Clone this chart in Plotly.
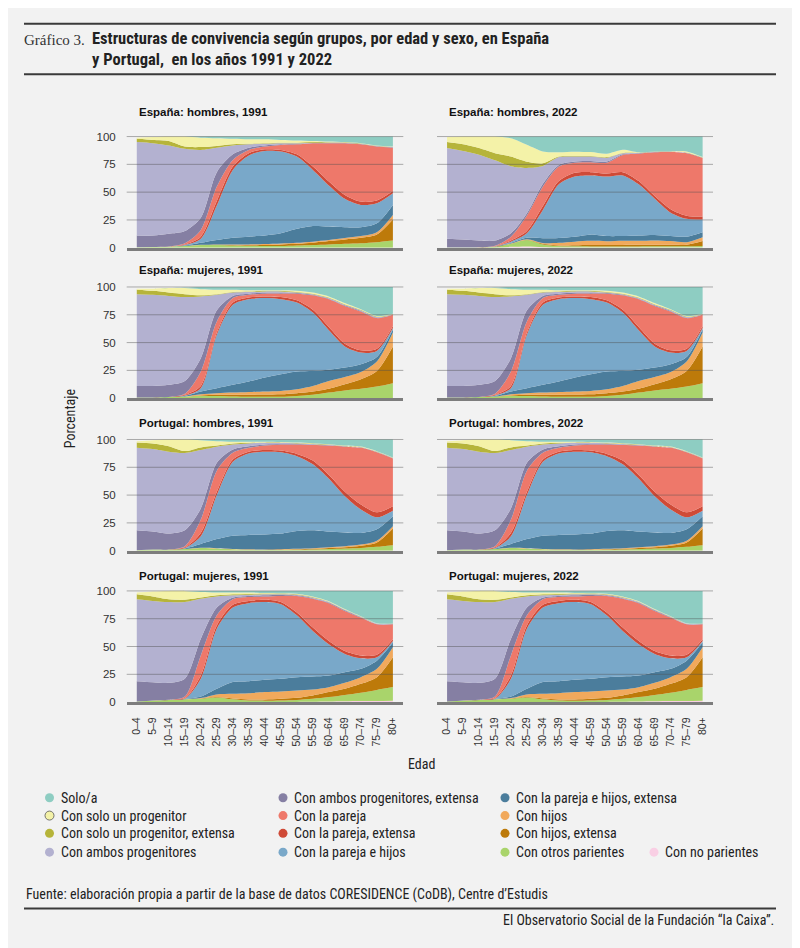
import plotly.graph_objects as go

# age groups (the source labels 45-49 as "45–59")
AGES = ["0–4", "5–9", "10–14", "15–19", "20–24", "25–29", "30–34", "35–39",
        "40–44", "45–59", "50–54", "55–59", "60–64", "65–69", "70–74", "75–79", "80+"]

# legend order = top of the stack first
CATEGORIES = ["Solo/a", "Con solo un progenitor", "Con solo un progenitor, extensa",
              "Con ambos progenitores", "Con ambos progenitores, extensa",
              "Con la pareja", "Con la pareja, extensa", "Con la pareja e hijos",
              "Con la pareja e hijos, extensa", "Con hijos", "Con hijos, extensa",
              "Con otros parientes", "Con no parientes"]

COLORS = ["#8ecdc2", "#f4f2a8", "#b6b43a", "#b3b1d0", "#857fa3", "#ee786a", "#cf4a37",
          "#79a8c9", "#4b7d9c", "#f1a95c", "#bd7a0a", "#a9d46b", "#f9cfe4"]

# % of population by age, one row per category (same order as CATEGORIES)
es_h_1991 = [
    [0, 0, 0, 0, 1, 1.5, 2, 2.5, 2.5, 3, 3.5, 4, 4.5, 5, 6, 8, 9],
    [1, 2.5, 4, 9, 8.5, 7, 5, 4, 3.5, 2.5, 2, 1, 0.7, 0.2, 0.2, 0.3, 0.3],
    [3, 3, 4, 2, 2.5, 1.5, 1, 0.5, 0.5, 0.5, 0.5, 0.5, 0.3, 0.3, 0.3, 0.2, 0.2],
    [84, 83, 79.5, 74, 61, 22, 8, 3, 1.5, 1, 0.5, 0.2, 0.2, 0.2, 0.2, 0.2, 0.2],
    [10.5, 10.3, 11.4, 11, 11, 13, 5, 2, 1, 0.5, 0.5, 0.3, 0.3, 0.3, 0.3, 0.3, 0.3],
    [0, 0, 0.1, 1, 6, 13, 6, 3, 2.5, 4.5, 9, 21, 34.5, 46.5, 51.5, 48.5, 39],
    [0, 0, 0, 0.5, 2, 4, 3, 2, 1.5, 1.5, 2, 3, 3.5, 3.5, 3, 2.5, 2],
    [0, 0, 0, 0.5, 3.5, 31, 61, 73, 76, 73.5, 65, 50.5, 37, 25.5, 20, 18, 10.5],
    [0, 0, 0, 0.5, 1.9, 4, 6, 7, 7.7, 9.2, 12.5, 14, 12, 9.8, 8, 8, 9],
    [0, 0, 0, 0, 0.1, 0.3, 0.5, 0.7, 0.8, 0.8, 1, 1, 1, 1.2, 1.5, 2, 4],
    [0, 0, 0, 0, 0, 0.2, 0.5, 0.8, 1, 1.5, 1.5, 2, 3, 4, 5, 7, 19],
    [0.5, 0.7, 1, 1.5, 2.5, 2.5, 2, 1.5, 1.5, 1.5, 2, 2.5, 3, 3.5, 4, 5, 6.5],
    [0, 0, 0, 0, 0, 0, 0, 0, 0, 0, 0, 0, 0, 0, 0, 0, 0],
]

es_h_2022 = [
    [0, 0, 0, 0, 1.5, 7.4, 13.4, 14.2, 13.6, 14, 15.4, 11.9, 14.2, 13.5, 13.2, 13.5, 18.5],
    [4.5, 7, 10.4, 15, 16.5, 15.2, 10.6, 3.8, 3.9, 3.5, 3.1, 2.8, 0.3, 0, 0.1, 0.8, 0.3],
    [5.4, 6, 5.9, 6.4, 8.7, 5.6, 2.5, 0.5, 0.5, 0.5, 0.5, 0.3, 0.2, 0.2, 0.2, 0.2, 0.2],
    [81.6, 79.6, 77.2, 72.1, 60.3, 40.8, 16, 7, 4.5, 4, 3.5, 1, 0.3, 0.3, 0.3, 0.3, 0.1],
    [7.8, 7.2, 6.1, 4.7, 3, 2, 2.5, 1.5, 1, 1, 1, 0.5, 0.4, 0.2, 0.2, 0.2, 0.2],
    [0, 0, 0.1, 0.4, 3.5, 14, 17.5, 13, 9.1, 9, 9.7, 15.5, 24.6, 39.2, 51.3, 56.2, 52.7],
    [0, 0, 0, 0.2, 1, 2, 3.5, 3, 3.4, 3, 2.8, 3, 3, 2.6, 3.2, 2.8, 2.5],
    [0, 0, 0, 0.2, 1, 4, 25.5, 48.2, 54, 53.2, 53.5, 54.5, 46, 32.5, 21, 16, 11.5],
    [0, 0, 0, 0.2, 0.7, 1.4, 4.3, 4.3, 4.5, 5.6, 4.6, 4.2, 4.8, 5, 4.5, 5, 4.5],
    [0, 0, 0, 0, 0.2, 0.4, 0.6, 2.5, 3.2, 3.7, 3.4, 3.8, 3.6, 3.9, 3.4, 2.3, 3.5],
    [0, 0, 0, 0, 0.1, 0.2, 0.6, 0.5, 1, 1.3, 1.3, 1.3, 1.4, 1.3, 1.3, 1.4, 4.5],
    [0.2, 0.2, 0.3, 0.7, 2.7, 5.8, 2.5, 1.2, 1.1, 1, 1, 1, 1, 1.1, 1.1, 1.1, 1.3],
    [0, 0, 0, 0.1, 0.8, 1.2, 0.5, 0.3, 0.2, 0.2, 0.2, 0.2, 0.2, 0.2, 0.2, 0.2, 0.2],
]

es_m_1991 = [
    [0, 0, 0, 0.5, 2, 2.5, 2.5, 3, 3, 3, 3.5, 5, 8.5, 14.5, 20, 26, 24],
    [1, 2, 4, 5.5, 5.5, 4, 2, 1, 0.5, 0.5, 1, 1, 1, 1, 0.5, 0.5, 0.2],
    [4, 3.5, 3, 2.5, 1, 0.5, 0.5, 0.5, 0.5, 0.5, 0.5, 0.5, 0.5, 0.5, 0.5, 0.5, 0.3],
    [82.5, 82, 80, 75.5, 55.5, 14, 3, 1.5, 1, 1, 0.5, 0.5, 0.5, 0.5, 0.5, 0.5, 0.2],
    [10.5, 10.3, 10.9, 11.5, 12, 10, 2, 1, 1, 1, 0.5, 0.5, 0.5, 0.5, 0.5, 0.5, 0.3],
    [0, 0, 0.1, 1, 13, 10, 4, 2.5, 2.5, 3, 6, 13, 25, 34, 35, 27.5, 10],
    [0, 0, 0, 0.5, 2, 2, 2, 1.5, 1.5, 2, 2, 2.5, 3, 2.5, 2, 2, 2],
    [0, 0, 0, 0.5, 3, 48, 72, 74, 71.5, 67.5, 62, 52.5, 35.5, 19, 10.5, 5.5, 1],
    [0, 0, 0, 0.4, 2.5, 4.5, 7, 9.5, 12.5, 15, 16, 13.5, 10, 8.5, 7, 4, 3],
    [0, 0, 0, 0.1, 1, 1.5, 2, 2.5, 2.8, 3, 3.5, 5, 7, 6.5, 6.5, 8.5, 12.5],
    [0, 0, 0, 0, 0.5, 1, 1.5, 1.7, 2, 2.2, 2.5, 3, 3.5, 5.5, 8.5, 14, 33],
    [0.5, 0.7, 1, 1.5, 2, 2, 1.5, 1.3, 1.2, 1.3, 2, 3, 5, 7, 8.5, 10.5, 13.5],
    [0, 0, 0, 0, 0, 0, 0, 0, 0, 0, 0, 0, 0, 0, 0, 0, 0],
]

pt_h_1991 = [
    [0, 0, 0, 0, 0.6, 1.5, 2, 2, 2, 2.2, 2.8, 3.4, 4.2, 5.4, 6.4, 10.5, 16.2],
    [1.2, 3, 6, 10.4, 6.5, 4, 1.7, 1, 0.6, 0.4, 0.4, 0.3, 0.3, 0.3, 0.3, 0.3, 0.2],
    [4.7, 5, 5, 1.8, 2.4, 1, 0.8, 0.5, 0.4, 0.4, 0.3, 0.3, 0.3, 0.3, 0.3, 0.2, 0.2],
    [74.2, 74.2, 73.6, 69.4, 52.5, 14.5, 4.5, 2.5, 1.5, 1, 0.5, 0.5, 0.4, 0.2, 0.2, 0.2, 0.2],
    [17.9, 16.2, 14.3, 14.4, 10, 7, 3, 1.5, 1, 0.5, 0.5, 0.5, 0.3, 0.3, 0.3, 0.3, 0.2],
    [0, 0, 0.1, 1, 12, 19, 6, 3.5, 4, 5.5, 8.5, 14, 26.5, 40.5, 51, 54, 43],
    [0, 0, 0, 0.5, 3, 3, 2, 1.5, 1.5, 1.5, 2, 3.3, 3.3, 4, 4.5, 4.5, 4],
    [0, 0, 0, 0.5, 7, 39.6, 66.6, 73.3, 74.5, 73.1, 67.2, 59.3, 47.5, 32.7, 21, 10.7, 5],
    [0, 0, 0, 0.5, 3.4, 8.2, 11.8, 13, 13.4, 14.1, 16.1, 16.1, 14.1, 12.3, 10.5, 10.3, 9],
    [0, 0, 0, 0, 0.1, 0.2, 0.2, 0.2, 0.2, 0.3, 0.4, 0.5, 0.6, 0.8, 1, 1.6, 2],
    [0, 0, 0, 0, 0, 0, 0.2, 0.2, 0.2, 0.3, 0.5, 0.8, 1, 1.2, 2, 3.9, 15],
    [0.5, 1, 1, 1.5, 2.5, 2, 1.2, 0.8, 0.7, 0.7, 0.8, 1, 1.5, 2, 2.5, 3.5, 5],
    [0, 0, 0, 0, 0, 0, 0, 0, 0, 0, 0, 0, 0, 0, 0, 0, 0],
]

pt_m_1991 = [
    [0, 0, 0, 0, 1, 1.5, 1.5, 1.5, 1.8, 2, 2.5, 5, 9.2, 16.2, 22.7, 29, 29.2],
    [1.5, 4.4, 7.5, 8, 5, 2.5, 1.5, 1.2, 0.6, 0.4, 0.5, 0.5, 0.5, 0.5, 0.3, 0.2, 0.2],
    [4.5, 4, 2.5, 2, 1, 1, 1, 0.8, 0.6, 0.6, 0.5, 0.5, 0.3, 0.3, 0.3, 0.2, 0.2],
    [73.7, 73.1, 72.7, 69, 36, 10, 2, 1, 1, 0.7, 0.5, 0.5, 0.5, 0.5, 0.4, 0.3, 0.2],
    [18.3, 16.4, 15.2, 16, 15, 7, 1.5, 1, 1, 0.8, 0.5, 0.5, 0.5, 0.5, 0.3, 0.3, 0.2],
    [0, 0, 0.1, 1.5, 18, 9, 5, 3.5, 3, 5.5, 15, 26, 34, 36, 34, 27.5, 13.5],
    [0, 0, 0, 0.5, 3, 3, 2.5, 2, 2, 2, 2.5, 3, 3, 2.7, 2.6, 2.2, 1.5],
    [0, 0, 0, 0.2, 16, 54, 67, 70.2, 70, 67, 55.6, 41, 28.1, 16.4, 9.5, 3, 1.5],
    [0, 0, 0, 0.2, 1.4, 5.1, 10.5, 10.8, 11, 11.5, 12, 11.7, 10.5, 9.6, 7.5, 7.4, 4.2],
    [0, 0, 0, 0.1, 0.3, 2.4, 4.3, 5.7, 6.6, 6.5, 6.5, 5.3, 4.4, 5.3, 6, 7.5, 9],
    [0, 0, 0, 0, 0.3, 0.3, 0.7, 0.8, 1.1, 1.5, 1.9, 3, 4.5, 5.5, 7.9, 11.4, 26.8],
    [0.5, 1.5, 2, 2.5, 3, 4.2, 2.4, 1.4, 1.2, 1.4, 1.8, 2.7, 4, 5.8, 7.6, 10, 12.3],
    [0, 0, 0, 0, 0, 0, 0.1, 0.1, 0.1, 0.1, 0.2, 0.3, 0.5, 0.7, 0.9, 1, 1.2],
]

# in the source these 2022 panels are drawn the same as 1991
es_m_2022 = es_m_1991
pt_h_2022 = pt_h_1991
pt_m_2022 = pt_m_1991

PANELS = [
    (es_h_1991, "España: hombres, 1991"), (es_h_2022, "España: hombres, 2022"),
    (es_m_1991, "España: mujeres, 1991"), (es_m_2022, "España: mujeres, 2022"),
    (pt_h_1991, "Portugal: hombres, 1991"), (pt_h_2022, "Portugal: hombres, 2022"),
    (pt_m_1991, "Portugal: mujeres, 1991"), (pt_m_2022, "Portugal: mujeres, 2022"),
]

W, H = 800, 948
OFF = 8   # the page body adds an 8px margin around the figure
NARROW = "Liberation Sans Narrow, Arial Narrow, Roboto Condensed, sans-serif"
SANS = "Liberation Sans, Arial, sans-serif"
SERIF = "Liberation Serif, DejaVu Serif, serif"
INK = "#222222"

ROW_BOTTOM = [245.5, 397.7, 552.0, 705.2]   # screen pixel of y=0 per row
TITLE_Y = [108, 268, 423, 578]
COL_X = [(126.7, 403.3), (437.0, 713.0)]
DATA_LEFT = [137, 446.7]
YMAX = 101
PX_UNIT = 1.125


def px(x):
    return (x - OFF) / W


def py(y):
    return 1 - (y - OFF) / H


fig = go.Figure()
layout = {}
shapes = []
annotations = []

for k, (table, title) in enumerate(PANELS):
    r, c = divmod(k, 2)
    n = k + 1
    xa = "x" if n == 1 else f"x{n}"
    ya = "y" if n == 1 else f"y{n}"

    # first trace added sits at the bottom of the stack
    for name, color, values in reversed(list(zip(CATEGORIES, COLORS, table))):
        fig.add_trace(go.Scatter(
            x=AGES, y=values, name=name, xaxis=xa, yaxis=ya,
            stackgroup=f"g{n}", mode="lines",
            line=dict(width=0, shape="spline", smoothing=0.8),
            fillcolor=color, showlegend=False, hoverinfo="skip",
        ))

    bottom = ROW_BOTTOM[r]
    top = bottom - YMAX * PX_UNIT
    x0, x1 = COL_X[c]
    layout["xaxis" if n == 1 else f"xaxis{n}"] = dict(
        domain=[px(x0), px(x1)], anchor=ya, type="category",
        range=[-0.63, 16.65], showgrid=False, zeroline=False,
        showline=True, linecolor="#7d7d7d", linewidth=3, ticks="",
        showticklabels=(r == 3), tickangle=-90, ticklabelstandoff=8,
        tickfont=dict(family=SANS, size=10.5, color="#333333"),
    )
    layout["yaxis" if n == 1 else f"yaxis{n}"] = dict(
        domain=[py(bottom), py(top)], anchor=xa, range=[0, YMAX],
        tickvals=[0, 25, 50, 75, 100], showgrid=False, zeroline=False,
        showline=False, ticks="", showticklabels=(c == 0), ticklabelstandoff=10,
        tickfont=dict(family=SANS, size=11.5, color="#333333"),
    )

    # grid lines sit above the areas in the original
    for v in [25, 50, 75, 100]:
        shapes.append(dict(
            type="line", xref=f"{xa} domain", x0=0, x1=1, yref=ya, y0=v, y1=v,
            line=dict(color="rgba(80,80,80,0.45)", width=1), layer="above",
        ))

    annotations.append(dict(
        text=f"<b>{title}</b>", x=px(DATA_LEFT[c]), y=py(TITLE_Y[r]),
        xanchor="left", yanchor="middle",
        font=dict(family=SANS, size=11.5, color="#111111"),
    ))

# header / footer rules
for y in [19, 70, 914]:
    shapes.append(dict(type="line", xref="paper", yref="paper",
                       x0=px(24), x1=px(776), y0=py(y), y1=py(y),
                       line=dict(color="#3a3a3a", width=2)))

annotations += [
    dict(text="Gráfico 3.", x=px(22), y=py(35), xanchor="left", yanchor="middle",
         font=dict(family=SERIF, size=15, color="#333333")),
    dict(text="<b>Estructuras de convivencia según grupos, por edad y sexo, en España"
              "<br>y Portugal,\u00a0 en los años 1991 y 2022</b>",
         x=px(90), y=py(44), xanchor="left", yanchor="middle", align="left",
         font=dict(family=NARROW, size=16.5, color="#222222")),
    dict(text="Porcentaje", x=px(70), y=py(418), textangle=-90,
         xanchor="center", yanchor="middle",
         font=dict(family=NARROW, size=14, color=INK)),
    dict(text="Edad", x=px(421), y=py(768), xanchor="center", yanchor="middle",
         font=dict(family=NARROW, size=14, color=INK)),
    dict(text="Fuente: elaboración propia a partir de la base de datos CORESIDENCE (CoDB), "
              "Centre d’Estudis",
         x=px(24), y=py(900), xanchor="left", yanchor="middle",
         font=dict(family=NARROW, size=14, color=INK)),
    dict(text="El Observatorio Social de la Fundación “la Caixa”.",
         x=px(776), y=py(926), xanchor="right", yanchor="middle",
         font=dict(family=NARROW, size=14, color=INK)),
]

# legend: 4 columns, filled column by column; last item in the 4th column, bottom row
LEG_COL_X = [49.5, 283, 505, 654]
LEG_ROW_Y = [802, 820, 838, 857]
slots = [(i // 4, i % 4) for i in range(12)] + [(3, 3)]
for (col, row), name, color in zip(slots, CATEGORIES, COLORS):
    cx, cy = LEG_COL_X[col], LEG_ROW_Y[row]
    outline = dict(color="#555555", width=0.8) if name == "Con solo un progenitor" else dict(width=0)
    shapes.append(dict(
        type="circle", xref="paper", yref="paper", xsizemode="pixel", ysizemode="pixel",
        xanchor=px(cx), yanchor=py(cy), x0=-4.5, x1=4.5, y0=-4.5, y1=4.5,
        fillcolor=color, line=outline,
    ))
    annotations.append(dict(
        text=name, x=px(cx + 9), y=py(cy), xanchor="left", yanchor="middle",
        font=dict(family=NARROW, size=14, color=INK),
    ))

for a in annotations:
    a.setdefault("xref", "paper")
    a.setdefault("yref", "paper")
    a.setdefault("showarrow", False)

fig.update_layout(
    width=W, height=H, autosize=False,
    margin=dict(l=0, r=0, t=0, b=0),
    paper_bgcolor="#f2f2f2", plot_bgcolor="#f2f2f2",
    showlegend=False,
    shapes=shapes, annotations=annotations,
    **layout,
)

fig.write_html("out.html")
